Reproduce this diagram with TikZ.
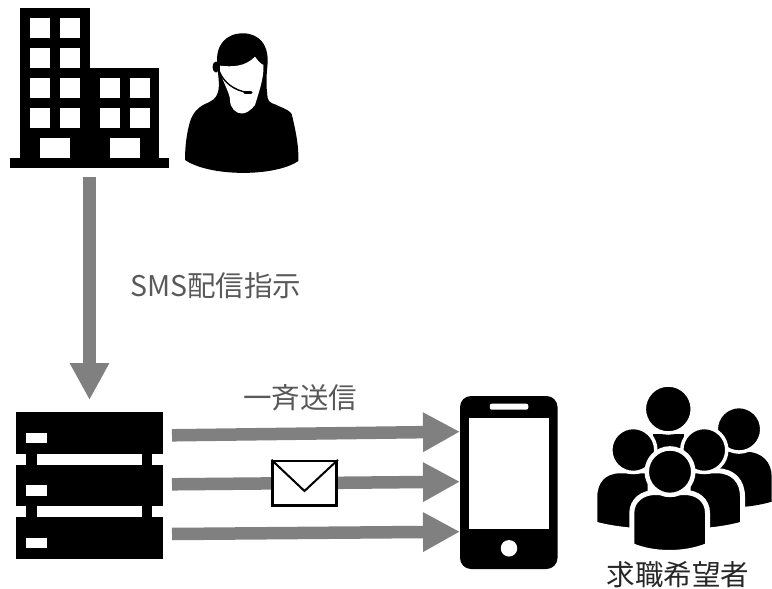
\documentclass[tikz,border=0pt]{standalone}
\usepackage{fontspec}
\setmainfont{Noto Sans CJK JP}
\usetikzlibrary{positioning, arrows.meta}
\definecolor{arrowgray}{HTML}{808080}
\definecolor{labelgray}{HTML}{595959}
\tikzset{
    solid block/.style={rectangle, fill=black, inner sep=0pt, outer sep=0pt},
    win/.style={rectangle, fill=white, inner sep=0pt, outer sep=0pt, minimum width=20pt, minimum height=20pt},
    door/.style={rectangle, fill=white, inner sep=0pt, outer sep=0pt, minimum width=30pt, minimum height=20pt},
    rack/.style={solid block, minimum width=147pt, minimum height=41.5pt},
    led/.style={rectangle, fill=white, inner sep=0pt, outer sep=0pt, minimum width=21pt, minimum height=10.5pt},
    bigarrow/.style={draw=arrowgray, line width=12.5pt, -{Triangle[length=37pt, width=37pt]}},
    member/.style={fill=black, draw=white, line width=5pt},
    memberhead/.style={fill=black, draw=white, line width=3.5pt},
    label/.style={font=\fontsize{28.5}{28.5}\selectfont, inner sep=0pt, text=labelgray}
}
\begin{document}
\begin{tikzpicture}[x=1pt, y=-1pt]
\useasboundingbox (0,0) rectangle (772,589);

% Building
\node (base) [solid block, minimum width=159pt, minimum height=10pt] at (89.5,163) {};
\node (tower) [solid block, minimum width=69.5pt, minimum height=150pt] at (54.75,83) {};
\node (wing) [solid block, minimum width=69.5pt, minimum height=90pt, anchor=south west] at (tower.south east) {};
\node (win1) [win] at (40,28) {};
\node (win2) [win, right=10pt of win1] {};
\node (win3) [win, below=10pt of win1] {};
\node (win4) [win, right=10pt of win3] {};
\node (win5) [win, below=10pt of win3] {};
\node (win6) [win, right=10pt of win5] {};
\node (win7) [win, below=10pt of win5] {};
\node (win8) [win, right=10pt of win7] {};
\node (win9) [win] at (109.5,88) {};
\node (win10) [win, right=10pt of win9] {};
\node (win11) [win, below=10pt of win9] {};
\node (win12) [win, right=10pt of win11] {};
\node (door1) [door] at (55,148) {};
\node (door2) [door] at (124.5,148) {};

% Operator
\fill (185,160) .. controls (210,177) and (275,177) .. (298.3,161)
    .. controls (299,145) and (295,128) .. (291.7,114)
    .. controls (287,108) and (279,107) .. (276.7,105)
    .. controls (270,103) and (267.3,101) .. (267.3,95)
    .. controls (266,85) and (266.5,75) .. (267.3,67)
    .. controls (270,45) and (259,33.3) .. (243,33.3)
    .. controls (226,33.3) and (215,45) .. (217.3,65)
    .. controls (218,75) and (220,85) .. (218,92)
    .. controls (216,99) and (212,101) .. (205,104)
    .. controls (197,108) and (193,113) .. (190,121.7)
    .. controls (187,132) and (185,145) .. (185,160) -- cycle;
\fill[white] (220,65.7) .. controls (232,67) and (245,67) .. (255,56.7)
    .. controls (258,61) and (261,64) .. (263.5,65)
    .. controls (264,78) and (259,92) .. (255,105)
    .. controls (250,111) and (246,113.5) .. (241.7,113.5)
    .. controls (236,113.5) and (230,108) .. (230,100)
    .. controls (230,94) and (224,84) .. (220,72) -- cycle;
\fill (216,67) ellipse [x radius=3.5, y radius=5.5];
\draw[line width=1.4pt] (219,71) .. controls (224,83) and (234,90) .. (247,92.5);
\draw[line width=3.2pt, line cap=round] (245,92.5) -- (251,92.5);

% Server
\node (rackA) [rack] at (89.5,432.75) {};
\node (rackB) [rack, below=11pt of rackA] {};
\node (rackC) [rack, below=11pt of rackB] {};
\node (ledA) [led] at (36.75,438) {};
\node (ledB) [led] at (36.75,490.5) {};
\node (ledC) [led] at (36.75,543) {};
\fill (26,450) rectangle (36.7,470);
\fill (141.7,450) rectangle (152.3,470);
\fill (26,502) rectangle (36.7,522);
\fill (141.7,502) rectangle (152.3,522);

% Smartphone
\node (phone) [solid block, rounded corners=11pt, minimum width=97.5pt, minimum height=173pt] at (508.75,482.5) {};
\node (screen) [rectangle, fill=white, inner sep=0pt, minimum width=79.5pt, minimum height=111.5pt] at (509,473.25) {};
\node (speaker) [rectangle, fill=white, rounded corners=2pt, inner sep=0pt, minimum width=38.5pt, minimum height=6pt] at (509,406.7) {};
\node (button) [circle, fill=white, inner sep=0pt, minimum size=16.5pt] at (509,548.3) {};

% People
\fill (725,451.7) -- (745,451.7) .. controls (762,451.7) and (771.7,462) .. (771.7,477)
    -- (771.7,501.7) .. controls (762,504.5) and (753,506) .. (745,506.7) -- (700,506.7) -- cycle;
\fill[memberhead] (739,429.3) circle [radius=22.75];
\fill (653.3,434) -- (684.3,434) -- (684.3,470) -- (653.3,470) -- cycle;
\fill[memberhead] (668.3,409) circle [radius=24];
\fill[member] (594.8,524) -- (594.8,496.7) .. controls (594.8,481) and (604,470.8) .. (620,470.8)
    -- (650,470.8) -- (650,532) -- (632,530.2) .. controls (618,529) and (606,527) .. (594.8,524) -- cycle;
\fill[member] (742.5,524) -- (742.5,496.7) .. controls (742.5,481) and (733,470.8) .. (717,470.8)
    -- (688,470.8) -- (688,532) -- (707,530.2) .. controls (720,529) and (732,527) .. (742.5,524) -- cycle;
\fill[memberhead] (633.3,450) circle [radius=22.5];
\fill[memberhead] (704.3,450) circle [radius=22.5];
\fill[member] (631.8,545.5) -- (631.8,513) .. controls (631.8,500) and (643,492.5) .. (655,492.5)
    -- (685,492.5) .. controls (697,492.5) and (707.5,500) .. (707.5,513)
    -- (707.5,545.5) .. controls (695,550.5) and (682,552.5) .. (669.5,552.5)
    .. controls (657,552.5) and (644,550.5) .. (631.8,545.5) -- cycle;
\fill[memberhead, line width=4.5pt] (670,471.7) circle [radius=23.25];

% Arrows
\coordinate (outA) at (172,435.3);
\coordinate (outB) at (172,484.3);
\coordinate (outC) at (172,534);
\coordinate (inA) at (460,431.7);
\coordinate (inB) at (460,481.7);
\coordinate (inC) at (460,531.7);
\draw[bigarrow, shorten <=9pt, shorten >=12pt] (base.south) -- (rackA.north);
\draw[bigarrow] (outA) -- (inA);
\draw[bigarrow] (outB) -- (inB);
\draw[bigarrow] (outC) -- (inC);

% Envelope
\node (mail) [rectangle, draw=black, fill=white, line width=2.5pt, inner sep=0pt, minimum width=64pt, minimum height=44.5pt] at (304.7,483.3) {};
\coordinate (fold) at (304.5,491);
\draw[line width=2pt] (mail.north west) -- (fold) -- (mail.north east);

% Labels
\node (order) [label, anchor=west] at (130,286) {SMS配信指示};
\node (bulk) [label, anchor=west] at (243,398) {一斉送信};
\node (seekers) [label, text=black!85, anchor=center] at (678,575) {求職希望者};

\end{tikzpicture}
\end{document}
